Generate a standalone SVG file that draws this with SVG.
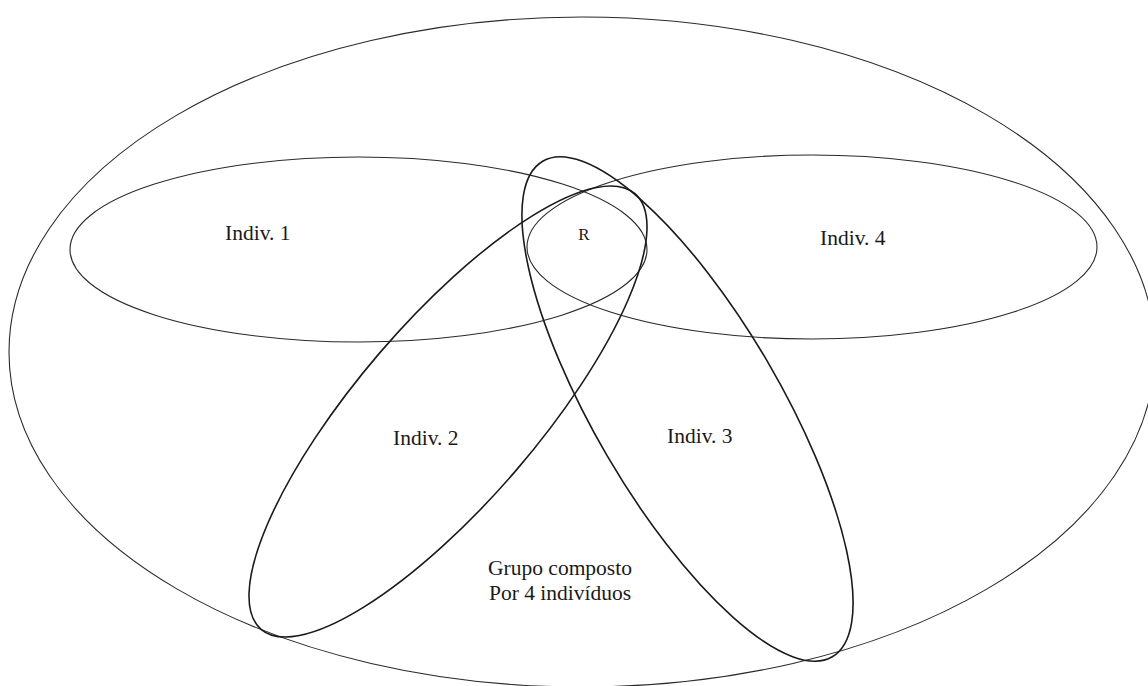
<svg xmlns="http://www.w3.org/2000/svg" width="1148" height="686" viewBox="0 0 1148 686">
<style>
.sh{fill:none;stroke:#2a2a2a;stroke-width:1.1}
.tl{fill:none;stroke:#1a1a1a;stroke-width:1.6}
.t{font-family:"Liberation Serif","Times New Roman",serif;font-size:21.5px;fill:#1a1a1a}
</style>
<rect width="1148" height="686" fill="#fff"/>
<g id="grupo">
<ellipse class="sh" cx="582" cy="352" rx="573" ry="335"/>
<text class="t" x="560" y="575" text-anchor="middle">Grupo composto</text>
<text class="t" x="560" y="600" text-anchor="middle">Por 4 indivíduos</text>
</g>
<g id="indiv1">
<ellipse class="sh" cx="358.5" cy="249.5" rx="288.5" ry="92.5"/>
<text class="t" x="225" y="240">Indiv. 1</text>
</g>
<g id="indiv4">
<ellipse class="sh" cx="812" cy="247" rx="285" ry="92"/>
<text class="t" x="820" y="245">Indiv. 4</text>
</g>
<g id="indiv2">
<ellipse class="tl" cx="448" cy="411.5" rx="287" ry="90" transform="rotate(-49.36 448 411.5)"/>
<text class="t" x="393" y="445">Indiv. 2</text>
</g>
<g id="indiv3">
<ellipse class="tl" cx="687.5" cy="409" rx="287" ry="93" transform="rotate(59.7 687.5 409)"/>
<text class="t" x="667" y="443">Indiv. 3</text>
</g>
<g id="r">
<text class="t" x="584" y="240" text-anchor="middle" style="font-size:17px">R</text>
</g>
<g id="connectors"/>
</svg>
